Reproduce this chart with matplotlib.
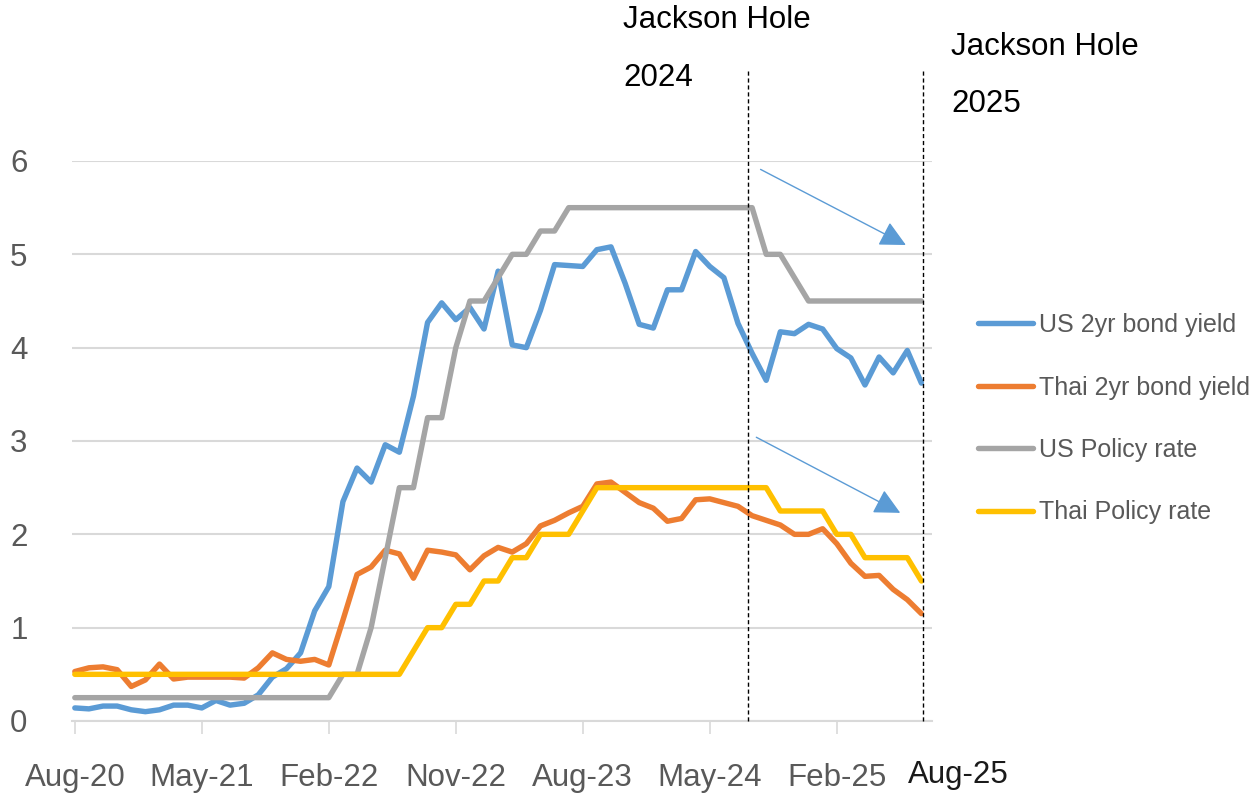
import matplotlib
matplotlib.use("Agg")
import matplotlib.pyplot as plt

plt.rcParams['font.family'] = ['Liberation Sans', 'DejaVu Sans']

# month index 0 = Aug-20 ... 60 = Aug-25 (month-end values)
months = list(range(61))
tick_labels = ["Aug-20", "May-21", "Feb-22", "Nov-22", "Aug-23", "May-24", "Feb-25"]
tick_pos = [0, 9, 18, 27, 36, 45, 54]

us_2yr = [0.14, 0.13, 0.16, 0.16, 0.12, 0.10, 0.12, 0.17, 0.17, 0.14,
          0.22, 0.17, 0.19, 0.28, 0.47, 0.56, 0.73, 1.18, 1.44, 2.35,
          2.71, 2.56, 2.96, 2.88, 3.48, 4.27, 4.48, 4.30, 4.43, 4.20,
          4.82, 4.03, 4.00, 4.40, 4.89, 4.88, 4.87, 5.05, 5.08, 4.69,
          4.25, 4.21, 4.62, 4.62, 5.03, 4.87, 4.75, 4.26, 3.94, 3.65,
          4.17, 4.15, 4.25, 4.20, 3.99, 3.89, 3.60, 3.90, 3.73, 3.97,
          3.62]
thai_2yr = [0.53, 0.57, 0.58, 0.55, 0.37, 0.44, 0.61, 0.45, 0.47, 0.47,
            0.47, 0.47, 0.46, 0.57, 0.73, 0.66, 0.64, 0.66, 0.60, 1.08,
            1.57, 1.65, 1.83, 1.79, 1.53, 1.83, 1.81, 1.78, 1.62, 1.77,
            1.86, 1.81, 1.90, 2.09, 2.15, 2.23, 2.30, 2.54, 2.56, 2.45,
            2.34, 2.28, 2.14, 2.17, 2.37, 2.38, 2.34, 2.30, 2.20, 2.15,
            2.10, 2.00, 2.00, 2.06, 1.90, 1.69, 1.55, 1.56, 1.41, 1.30,
            1.15]
us_policy = [0.25, 0.25, 0.25, 0.25, 0.25, 0.25, 0.25, 0.25, 0.25, 0.25,
             0.25, 0.25, 0.25, 0.25, 0.25, 0.25, 0.25, 0.25, 0.25, 0.50,
             0.50, 1.00, 1.75, 2.50, 2.50, 3.25, 3.25, 4.00, 4.50, 4.50,
             4.75, 5.00, 5.00, 5.25, 5.25, 5.50, 5.50, 5.50, 5.50, 5.50,
             5.50, 5.50, 5.50, 5.50, 5.50, 5.50, 5.50, 5.50, 5.50, 5.00,
             5.00, 4.75, 4.50, 4.50, 4.50, 4.50, 4.50, 4.50, 4.50, 4.50,
             4.50]
thai_policy = [0.50, 0.50, 0.50, 0.50, 0.50, 0.50, 0.50, 0.50, 0.50, 0.50,
               0.50, 0.50, 0.50, 0.50, 0.50, 0.50, 0.50, 0.50, 0.50, 0.50,
               0.50, 0.50, 0.50, 0.50, 0.75, 1.00, 1.00, 1.25, 1.25, 1.50,
               1.50, 1.75, 1.75, 2.00, 2.00, 2.00, 2.25, 2.50, 2.50, 2.50,
               2.50, 2.50, 2.50, 2.50, 2.50, 2.50, 2.50, 2.50, 2.50, 2.50,
               2.25, 2.25, 2.25, 2.25, 2.00, 2.00, 1.75, 1.75, 1.75, 1.75,
               1.50]

series_names = ["US 2yr bond yield", "Thai 2yr bond yield", "US Policy rate", "Thai Policy rate"]
series_colors = ["#5B9BD5", "#ED7D31", "#A5A5A5", "#FFC000"]

jackson_x = [47.7, 60.1]
jackson_labels = [("Jackson Hole", "2024"), ("Jackson Hole", "2025")]

FS = 22.5
W, H = 1253, 796
fig = plt.figure(figsize=(W / 100, H / 100), dpi=100)
ax = fig.add_axes([72 / W, 1 - 721 / H, (932 - 72) / W, (721 - 161) / H])

for data, name, col in zip([us_2yr, thai_2yr, us_policy, thai_policy], series_names, series_colors):
    ax.plot(months, data, color=col, lw=3.9, label=name,
            solid_capstyle='round', solid_joinstyle='round', zorder=3)

ax.set_xlim(-0.2, 60.75)
ax.set_ylim(0, 6)
ax.set_yticks(range(7))
ax.set_xticks(tick_pos)
ax.set_xticklabels(tick_labels)
ax.grid(axis='y', color='#D9D9D9', lw=1.5, zorder=0)
ax.set_axisbelow(True)
for s in ['top', 'right', 'left']:
    ax.spines[s].set_visible(False)
ax.spines['bottom'].set_color('#D9D9D9')
ax.spines['bottom'].set_linewidth(1.5)
ax.tick_params(axis='x', length=9.5, width=1.2, color='#D9D9D9', pad=21,
               labelsize=FS, labelcolor='#595959')
ax.tick_params(axis='y', length=0, pad=32, labelsize=FS, labelcolor='#595959')

# Jackson Hole dashed lines
for xv in jackson_x:
    ax.plot([xv, xv], [0, 6.98], color='black', lw=1.0, ls=(0, (3, 2)),
            clip_on=False, zorder=4)

# Trend arrows
arrows = [((48.6, 5.91), (58.9, 5.10)), ((48.3, 3.04), (58.5, 2.23))]
for (x0, y0), (x1, y1) in arrows:
    ax.annotate("", xy=(x1, y1), xytext=(x0, y0),
                arrowprops=dict(arrowstyle='-|>,head_length=0.8,head_width=0.4',
                                color='#5B9BD5', lw=1.0, mutation_scale=20,
                                shrinkA=0, shrinkB=0), zorder=5)

# texts
fig.text(623 / W, 1 - 20 / H, jackson_labels[0][0], fontsize=FS, va='center', ha='left', color='black')
fig.text(623 / W, 1 - 78 / H, jackson_labels[0][1], fontsize=FS, va='center', ha='left', color='black')
fig.text(951 / W, 1 - 47 / H, jackson_labels[1][0], fontsize=FS, va='center', ha='left', color='black')
fig.text(951 / W, 1 - 104 / H, jackson_labels[1][1], fontsize=FS, va='center', ha='left', color='black')
fig.text(958 / W, 1 - 775 / H, "Aug-25", fontsize=FS, va='center', ha='center', color='#1a1a1a')

leg = fig.legend(loc='upper left', bbox_to_anchor=(978 / W, 1 - 313 / H), frameon=False,
                 fontsize=18, handlelength=2.2, handletextpad=0.25, labelspacing=1.54,
                 borderpad=0, borderaxespad=0)
for t in leg.get_texts():
    t.set_color('#595959')

fig.savefig("out.png", dpi=100)
